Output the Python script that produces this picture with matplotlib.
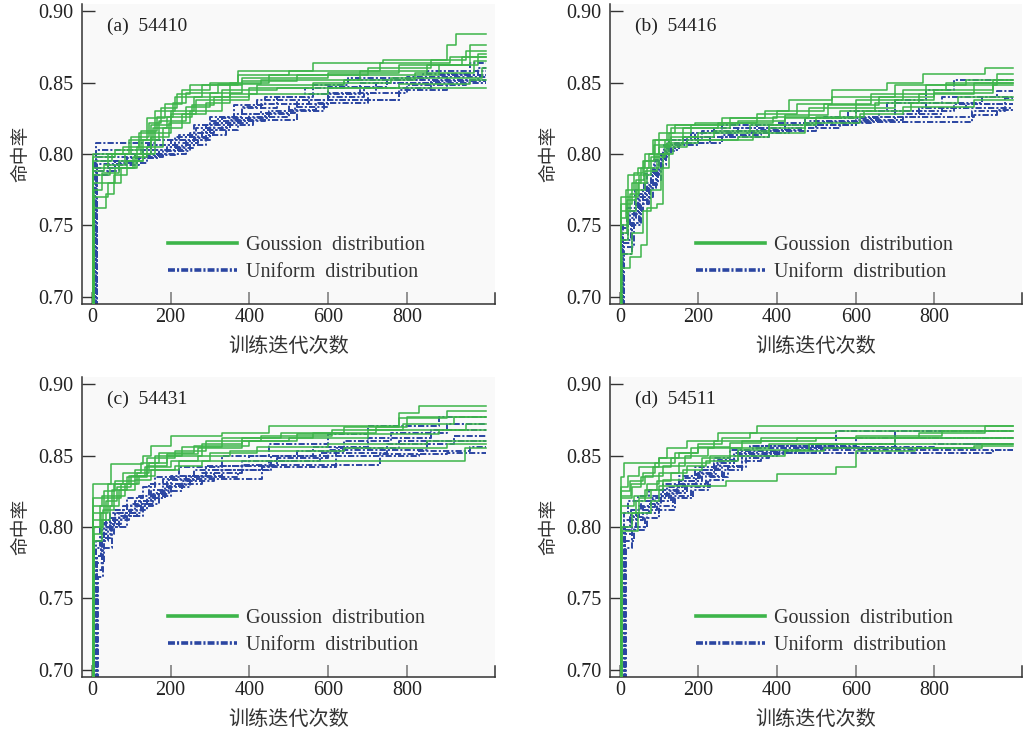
import matplotlib
matplotlib.use("Agg")
import matplotlib.pyplot as plt
from matplotlib.lines import Line2D

# ---------------- data (iteration, hit-rate) step points ----------------
panel_titles = ["(a)  54410", "(b)  54416", "(c)  54431", "(d)  54511"]
legend_labels = ["Goussion  distribution", "Uniform  distribution"]
x_ticks = [0, 200, 400, 600, 800]
y_ticks = [0.70, 0.75, 0.80, 0.85, 0.90]
last_iter = 999

a_gauss = [
    [(0, .60), (3, .79), (40, .80), (95, .81), (140, .825), (185, .835), (230, .845), (300, .85), (370, .858), (560, .864), (740, .866), (900, .876), (925, .884)],
    [(0, .60), (4, .78), (60, .79), (110, .80), (150, .82), (200, .83), (260, .84), (350, .85), (450, .855), (700, .86), (860, .866), (950, .872)],
    [(0, .60), (6, .762), (35, .772), (55, .785), (90, .795), (130, .81), (170, .823), (240, .833), (300, .843), (380, .851), (520, .855), (880, .862), (940, .868)],
    [(0, .60), (2, .80), (80, .805), (120, .815), (160, .83), (210, .84), (280, .848), (380, .853), (600, .857), (780, .862), (960, .876)],
    [(0, .60), (5, .775), (25, .787), (70, .795), (130, .80), (160, .815), (200, .828), (265, .838), (330, .845), (470, .846)],
    [(0, .60), (3, .795), (50, .80), (100, .812), (145, .822), (175, .832), (215, .842), (250, .848), (370, .855), (500, .858), (730, .864), (910, .868)],
    [(0, .60), (4, .785), (45, .79), (105, .798), (140, .805), (180, .818), (230, .828), (290, .836), (350, .842), (420, .848), (640, .852), (820, .857), (970, .865)],
    [(0, .60), (2, .798), (60, .803), (120, .81), (155, .818), (190, .826), (255, .834), (310, .84), (400, .846), (560, .85), (760, .853), (990, .86)],
    [(0, .60), (3, .788), (30, .792), (85, .80), (125, .816), (165, .826), (205, .836), (240, .843), (320, .849), (430, .852), (680, .858), (850, .862), (980, .87)],
    [(0, .60), (5, .77), (40, .78), (75, .79), (115, .805), (150, .812), (195, .822), (250, .83), (330, .838), (400, .842), (600, .846), (780, .849), (960, .852)],
]
a_uniform = [
    [(0, .60), (10, .808), (160, .81), (250, .815), (300, .823), (380, .832), (470, .84), (560, .848), (650, .853), (850, .858), (960, .864)],
    [(0, .60), (12, .79), (60, .795), (110, .80), (190, .805), (240, .812), (290, .82), (360, .828), (430, .835), (550, .842), (680, .85), (800, .854)],
    [(0, .60), (11, .80), (130, .803), (200, .81), (280, .817), (330, .825), (450, .83), (520, .838), (780, .845), (900, .85)],
    [(0, .60), (13, .785), (40, .792), (120, .797), (170, .803), (230, .808), (270, .815), (310, .822), (400, .828), (500, .835), (600, .843), (720, .85), (900, .855)],
    [(0, .60), (9, .795), (100, .80), (150, .806), (220, .813), (260, .82), (320, .826), (380, .833), (420, .838), (600, .847), (750, .852), (980, .86)],
    [(0, .60), (14, .798), (180, .802), (250, .81), (300, .818), (350, .824), (520, .83), (590, .838), (780, .85), (880, .855)],
    [(0, .60), (10, .803), (140, .806), (210, .812), (265, .818), (300, .826), (360, .834), (440, .84), (540, .846), (640, .852), (840, .856), (960, .858)],
    [(0, .60), (12, .793), (90, .797), (160, .80), (240, .806), (290, .813), (340, .82), (410, .826), (500, .831), (570, .836), (700, .843), (800, .848), (950, .852)],
    [(0, .60), (11, .788), (70, .794), (140, .799), (210, .804), (260, .811), (300, .817), (370, .823), (440, .829), (515, .833), (600, .84), (690, .846), (860, .851)],
]

b_gauss = [
    [(0, .60), (2, .77), (20, .785), (45, .79), (65, .80), (85, .81), (120, .82), (190, .822), (280, .825), (370, .83), (430, .838), (540, .845), (680, .85), (770, .856), (930, .86)],
    [(0, .60), (3, .755), (15, .775), (35, .787), (60, .795), (90, .81), (130, .818), (250, .822), (350, .828), (450, .835), (540, .84), (700, .848), (880, .852)],
    [(0, .60), (4, .72), (25, .728), (55, .736), (70, .762), (95, .765), (110, .80), (135, .805), (170, .81), (300, .812), (380, .818), (470, .825), (600, .832), (700, .838), (800, .843), (950, .848)],
    [(0, .60), (2, .765), (30, .78), (55, .79), (75, .80), (100, .815), (140, .82), (260, .825), (400, .83), (520, .835), (640, .842), (780, .848), (960, .856)],
    [(0, .60), (3, .75), (20, .77), (45, .78), (70, .79), (100, .805), (130, .812), (200, .815), (330, .82), (420, .825), (560, .83), (650, .836), (760, .842), (900, .85)],
    [(0, .60), (2, .76), (25, .772), (50, .785), (80, .798), (115, .81), (160, .818), (280, .822), (390, .826), (480, .832), (600, .838), (720, .845), (830, .85)],
    [(0, .60), (5, .73), (30, .745), (60, .76), (80, .775), (105, .79), (125, .806), (160, .812), (240, .816), (380, .82), (500, .826), (620, .83), (740, .836), (860, .84)],
    [(0, .60), (3, .74), (20, .76), (40, .775), (65, .788), (95, .80), (120, .808), (200, .81), (340, .815), (470, .822), (610, .828), (720, .833), (900, .838)],
    [(0, .60), (2, .745), (18, .768), (42, .782), (62, .795), (88, .806), (125, .815), (180, .82), (300, .823), (420, .827), (530, .834), (660, .84), (800, .845), (950, .852)],
]
b_uniform = [
    [(0, .60), (8, .75), (25, .76), (45, .77), (65, .78), (85, .79), (105, .80), (125, .81), (190, .815), (260, .82), (400, .822), (520, .826), (600, .83), (700, .838), (780, .845), (850, .852)],
    [(0, .60), (6, .74), (20, .755), (40, .765), (60, .775), (80, .785), (100, .795), (115, .805), (150, .81), (210, .816), (350, .82), (470, .825), (580, .83), (680, .836), (820, .84), (960, .844)],
    [(0, .60), (10, .73), (30, .75), (55, .765), (75, .778), (95, .79), (110, .80), (130, .806), (200, .812), (320, .815), (430, .818), (560, .822), (640, .826), (760, .832), (880, .835), (980, .839)],
    [(0, .60), (7, .745), (22, .758), (50, .772), (70, .785), (90, .795), (110, .802), (140, .808), (230, .812), (380, .816), (500, .82), (600, .823), (700, .826), (900, .827), (960, .831)],
    [(0, .60), (9, .735), (35, .76), (60, .77), (85, .782), (105, .798), (120, .81), (180, .815), (300, .818), (410, .82), (520, .8225), (895, .83), (980, .835)],
    [(0, .60), (8, .74), (28, .752), (48, .765), (70, .776), (92, .788), (108, .799), (125, .807), (170, .812), (280, .816), (420, .82), (540, .825), (660, .83), (780, .836), (920, .84)],
    [(0, .60), (6, .748), (18, .762), (38, .775), (62, .786), (86, .796), (112, .806), (160, .812), (240, .818), (380, .82), (480, .823), (600, .826), (700, .83), (850, .835)],
    [(0, .60), (11, .738), (30, .752), (52, .768), (78, .78), (98, .792), (118, .803), (150, .808), (260, .813), (360, .817), (460, .82), (600, .824), (720, .828), (820, .832)],
]

c_gauss = [
    [(0, .60), (4, .83), (48, .844), (130, .85), (150, .857), (200, .864), (330, .866), (450, .871), (780, .88), (830, .885)],
    [(0, .60), (3, .81), (30, .825), (60, .832), (110, .84), (160, .85), (230, .856), (330, .862), (480, .866), (640, .87), (780, .876), (900, .881)],
    [(0, .60), (5, .80), (20, .815), (50, .826), (90, .835), (140, .843), (190, .85), (280, .858), (380, .862), (560, .866), (720, .87), (800, .877)],
    [(0, .60), (2, .82), (40, .83), (80, .838), (125, .845), (170, .852), (260, .857), (400, .86), (520, .865), (700, .868), (950, .872)],
    [(0, .60), (6, .79), (25, .805), (45, .815), (70, .826), (110, .833), (150, .84), (220, .846), (300, .852), (420, .856), (600, .858), (850, .86)],
    [(0, .60), (4, .805), (35, .818), (65, .828), (100, .836), (135, .842), (200, .846), (270, .85), (350, .853), (640, .855), (900, .858)],
    [(0, .60), (3, .80), (28, .812), (55, .822), (85, .83), (120, .836), (160, .84), (210, .843), (280, .846), (450, .8465), (947, .855)],
    [(0, .60), (5, .795), (22, .81), (40, .82), (75, .83), (115, .838), (145, .845), (190, .851), (270, .855), (380, .86), (500, .862), (700, .865), (880, .868)],
    [(0, .60), (2, .815), (25, .822), (55, .83), (95, .836), (140, .848), (210, .853), (290, .86), (430, .864), (610, .868), (790, .872), (920, .877)],
]
c_uniform = [
    [(0, .60), (12, .78), (22, .795), (35, .805), (60, .812), (90, .82), (130, .828), (160, .835), (220, .842), (330, .85), (450, .858), (600, .865), (700, .871), (880, .8767)],
    [(0, .60), (14, .77), (25, .79), (40, .80), (70, .81), (110, .818), (150, .826), (190, .833), (260, .84), (380, .846), (520, .853), (640, .86), (760, .866), (900, .872)],
    [(0, .60), (10, .785), (20, .80), (45, .81), (80, .815), (120, .822), (145, .83), (200, .836), (290, .843), (400, .85), (560, .856), (700, .862), (860, .868)],
    [(0, .60), (15, .765), (28, .785), (50, .80), (90, .808), (130, .816), (170, .825), (230, .832), (310, .84), (450, .846), (580, .852), (750, .858), (920, .864)],
    [(0, .60), (12, .775), (30, .795), (55, .805), (95, .812), (140, .82), (185, .828), (250, .835), (370, .84), (455, .85), (620, .855), (780, .86)],
    [(0, .60), (13, .78), (24, .798), (45, .806), (85, .81), (125, .818), (160, .824), (180, .8335), (432, .842), (620, .85), (830, .853), (960, .856)],
    [(0, .60), (11, .79), (30, .803), (60, .81), (100, .816), (150, .822), (200, .83), (280, .838), (380, .8435), (731, .851), (900, .852)],
    [(0, .60), (14, .775), (26, .792), (48, .802), (75, .808), (115, .815), (155, .823), (195, .829), (240, .836), (330, .843), (470, .848), (600, .854), (850, .86)],
]

d_gauss = [
    [(0, .60), (3, .835), (10, .845), (100, .848), (120, .855), (170, .86), (250, .866), (350, .871)],
    [(0, .60), (4, .825), (25, .832), (60, .838), (90, .845), (140, .852), (200, .858), (260, .862), (330, .866), (550, .867)],
    [(0, .60), (2, .82), (30, .828), (55, .835), (85, .842), (130, .848), (180, .855), (240, .86), (450, .862)],
    [(0, .60), (5, .80), (30, .81), (50, .82), (80, .826), (110, .833), (160, .84), (210, .848), (280, .855), (380, .858), (700, .862)],
    [(0, .60), (3, .815), (35, .822), (70, .83), (100, .838), (150, .845), (230, .85), (300, .854), (480, .858)],
    [(0, .60), (6, .797), (45, .81), (80, .818), (100, .829), (270, .832), (400, .837), (550, .842), (600, .853), (750, .855), (920, .858)],
    [(0, .60), (4, .81), (40, .818), (65, .826), (95, .832), (130, .838), (170, .843), (220, .846), (300, .85), (420, .853), (520, .855), (900, .857)],
    [(0, .60), (2, .828), (20, .836), (50, .842), (100, .848), (150, .852), (200, .856), (280, .859), (360, .862), (600, .864), (820, .867)],
    [(0, .60), (3, .822), (28, .83), (65, .836), (110, .843), (165, .85), (225, .855), (310, .86), (500, .862), (760, .866), (930, .871)],
]
d_uniform = [
    [(0, .60), (12, .80), (25, .808), (50, .815), (80, .82), (110, .826), (150, .832), (200, .838), (240, .845), (290, .852), (350, .857), (550, .867)],
    [(0, .60), (14, .795), (30, .805), (60, .812), (95, .818), (130, .824), (170, .83), (220, .836), (260, .843), (310, .85), (400, .855), (700, .862)],
    [(0, .60), (11, .805), (28, .812), (55, .818), (85, .822), (120, .828), (160, .834), (205, .84), (250, .847), (300, .853), (450, .856), (800, .858)],
    [(0, .60), (13, .79), (35, .80), (70, .81), (100, .815), (135, .822), (180, .828), (230, .835), (275, .842), (320, .848), (380, .852), (950, .854)],
    [(0, .60), (10, .81), (22, .818), (45, .822), (75, .826), (110, .83), (150, .836), (190, .842), (240, .848), (280, .854), (330, .857), (600, .862)],
    [(0, .60), (15, .785), (32, .798), (65, .806), (100, .812), (140, .82), (185, .826), (225, .833), (265, .84), (310, .846), (360, .852), (500, .855), (880, .858)],
    [(0, .60), (12, .80), (40, .81), (75, .816), (105, .823), (145, .83), (195, .837), (245, .843), (290, .85), (340, .855), (620, .858), (700, .867)],
    [(0, .60), (13, .798), (28, .807), (58, .814), (90, .82), (125, .825), (165, .832), (210, .84), (255, .846), (300, .851), (420, .854)],
]

panels = [(a_gauss, a_uniform), (b_gauss, b_uniform), (c_gauss, c_uniform), (d_gauss, d_uniform)]

# ---------------- style ----------------
GREEN = "#3db54a"
BLUE = "#2b46a2"
SERIF = ["Liberation Serif", "DejaVu Serif"]
CJK = ["Noto Sans CJK SC", "DejaVu Sans"]
plt.rcParams["lines.scale_dashes"] = False
DASHDOT = (0, (4.5, 1.5, 1.5, 1.5))

W, H = 1023, 729
fig = plt.figure(figsize=(W / 100, H / 100), dpi=100, facecolor="white")

boxes = [(82, 4, 495, 304), (610, 4, 1022, 304),
         (82, 377, 495, 677), (610, 377, 1022, 677)]


def step_xy(run):
    xs = [p[0] for p in run] + [last_iter]
    ys = [p[1] for p in run] + [run[-1][1]]
    return xs, ys


for (gauss, uni), title, (l, t, r, b) in zip(panels, panel_titles, boxes):
    ax = fig.add_axes([l / W, 1 - b / H, (r - l) / W, (b - t) / H])
    ax.set_facecolor("#f9f9f9")
    for run in uni:
        xs, ys = step_xy(run)
        ax.plot(xs, ys, drawstyle="steps-post", color=BLUE, lw=1.4, linestyle=DASHDOT, zorder=2)
    for run in gauss:
        xs, ys = step_xy(run)
        ax.plot(xs, ys, drawstyle="steps-post", color=GREEN, lw=1.1, zorder=3)

    ax.set_xlim(-25, 1023)
    ax.set_ylim(0.695, 0.905)
    ax.set_xticks(x_ticks)
    ax.set_yticks(y_ticks)
    ax.set_yticklabels([f"{v:.2f}" for v in y_ticks])
    for lab in ax.get_xticklabels() + ax.get_yticklabels():
        lab.set_family(SERIF)
        lab.set_fontsize(14.5)
        lab.set_color("#222222")
    ax.tick_params(axis="x", direction="in", length=9, width=1.3, color="#8a8a8a", pad=3)
    ax.tick_params(axis="y", direction="in", length=9, width=1.0, color="#333333", pad=6)

    ax.spines["top"].set_visible(False)
    ax.spines["right"].set_bounds(0.695, 0.703)
    for s in ["left", "bottom", "right"]:
        ax.spines[s].set_color("#333333")
        ax.spines[s].set_linewidth(1.1)

    ax.set_xlabel("训练迭代次数", family=CJK, fontsize=14.5, color="#333333", labelpad=6)
    ax.set_ylabel("命中率", family=CJK, fontsize=13.5, color="#333333", labelpad=5)
    ax.text(0.06, 0.925, title, transform=ax.transAxes, family=SERIF, fontsize=14,
            color="#222222", va="center", ha="left")

    handles = [Line2D([], [], color=GREEN, lw=2.6),
               Line2D([], [], color=BLUE, lw=2.6, linestyle=(0, (5, 1.5, 1.5, 1.5)))]
    leg = ax.legend(handles, legend_labels, loc="lower left", bbox_to_anchor=(0.175, 0.025),
                    frameon=False, prop={"family": SERIF, "size": 14.5},
                    handlelength=3.4, handletextpad=0.45, labelspacing=0.42, borderpad=0.2)
    for txt in leg.get_texts():
        txt.set_color("#333333")

fig.savefig("out.png", dpi=100, facecolor="white")
